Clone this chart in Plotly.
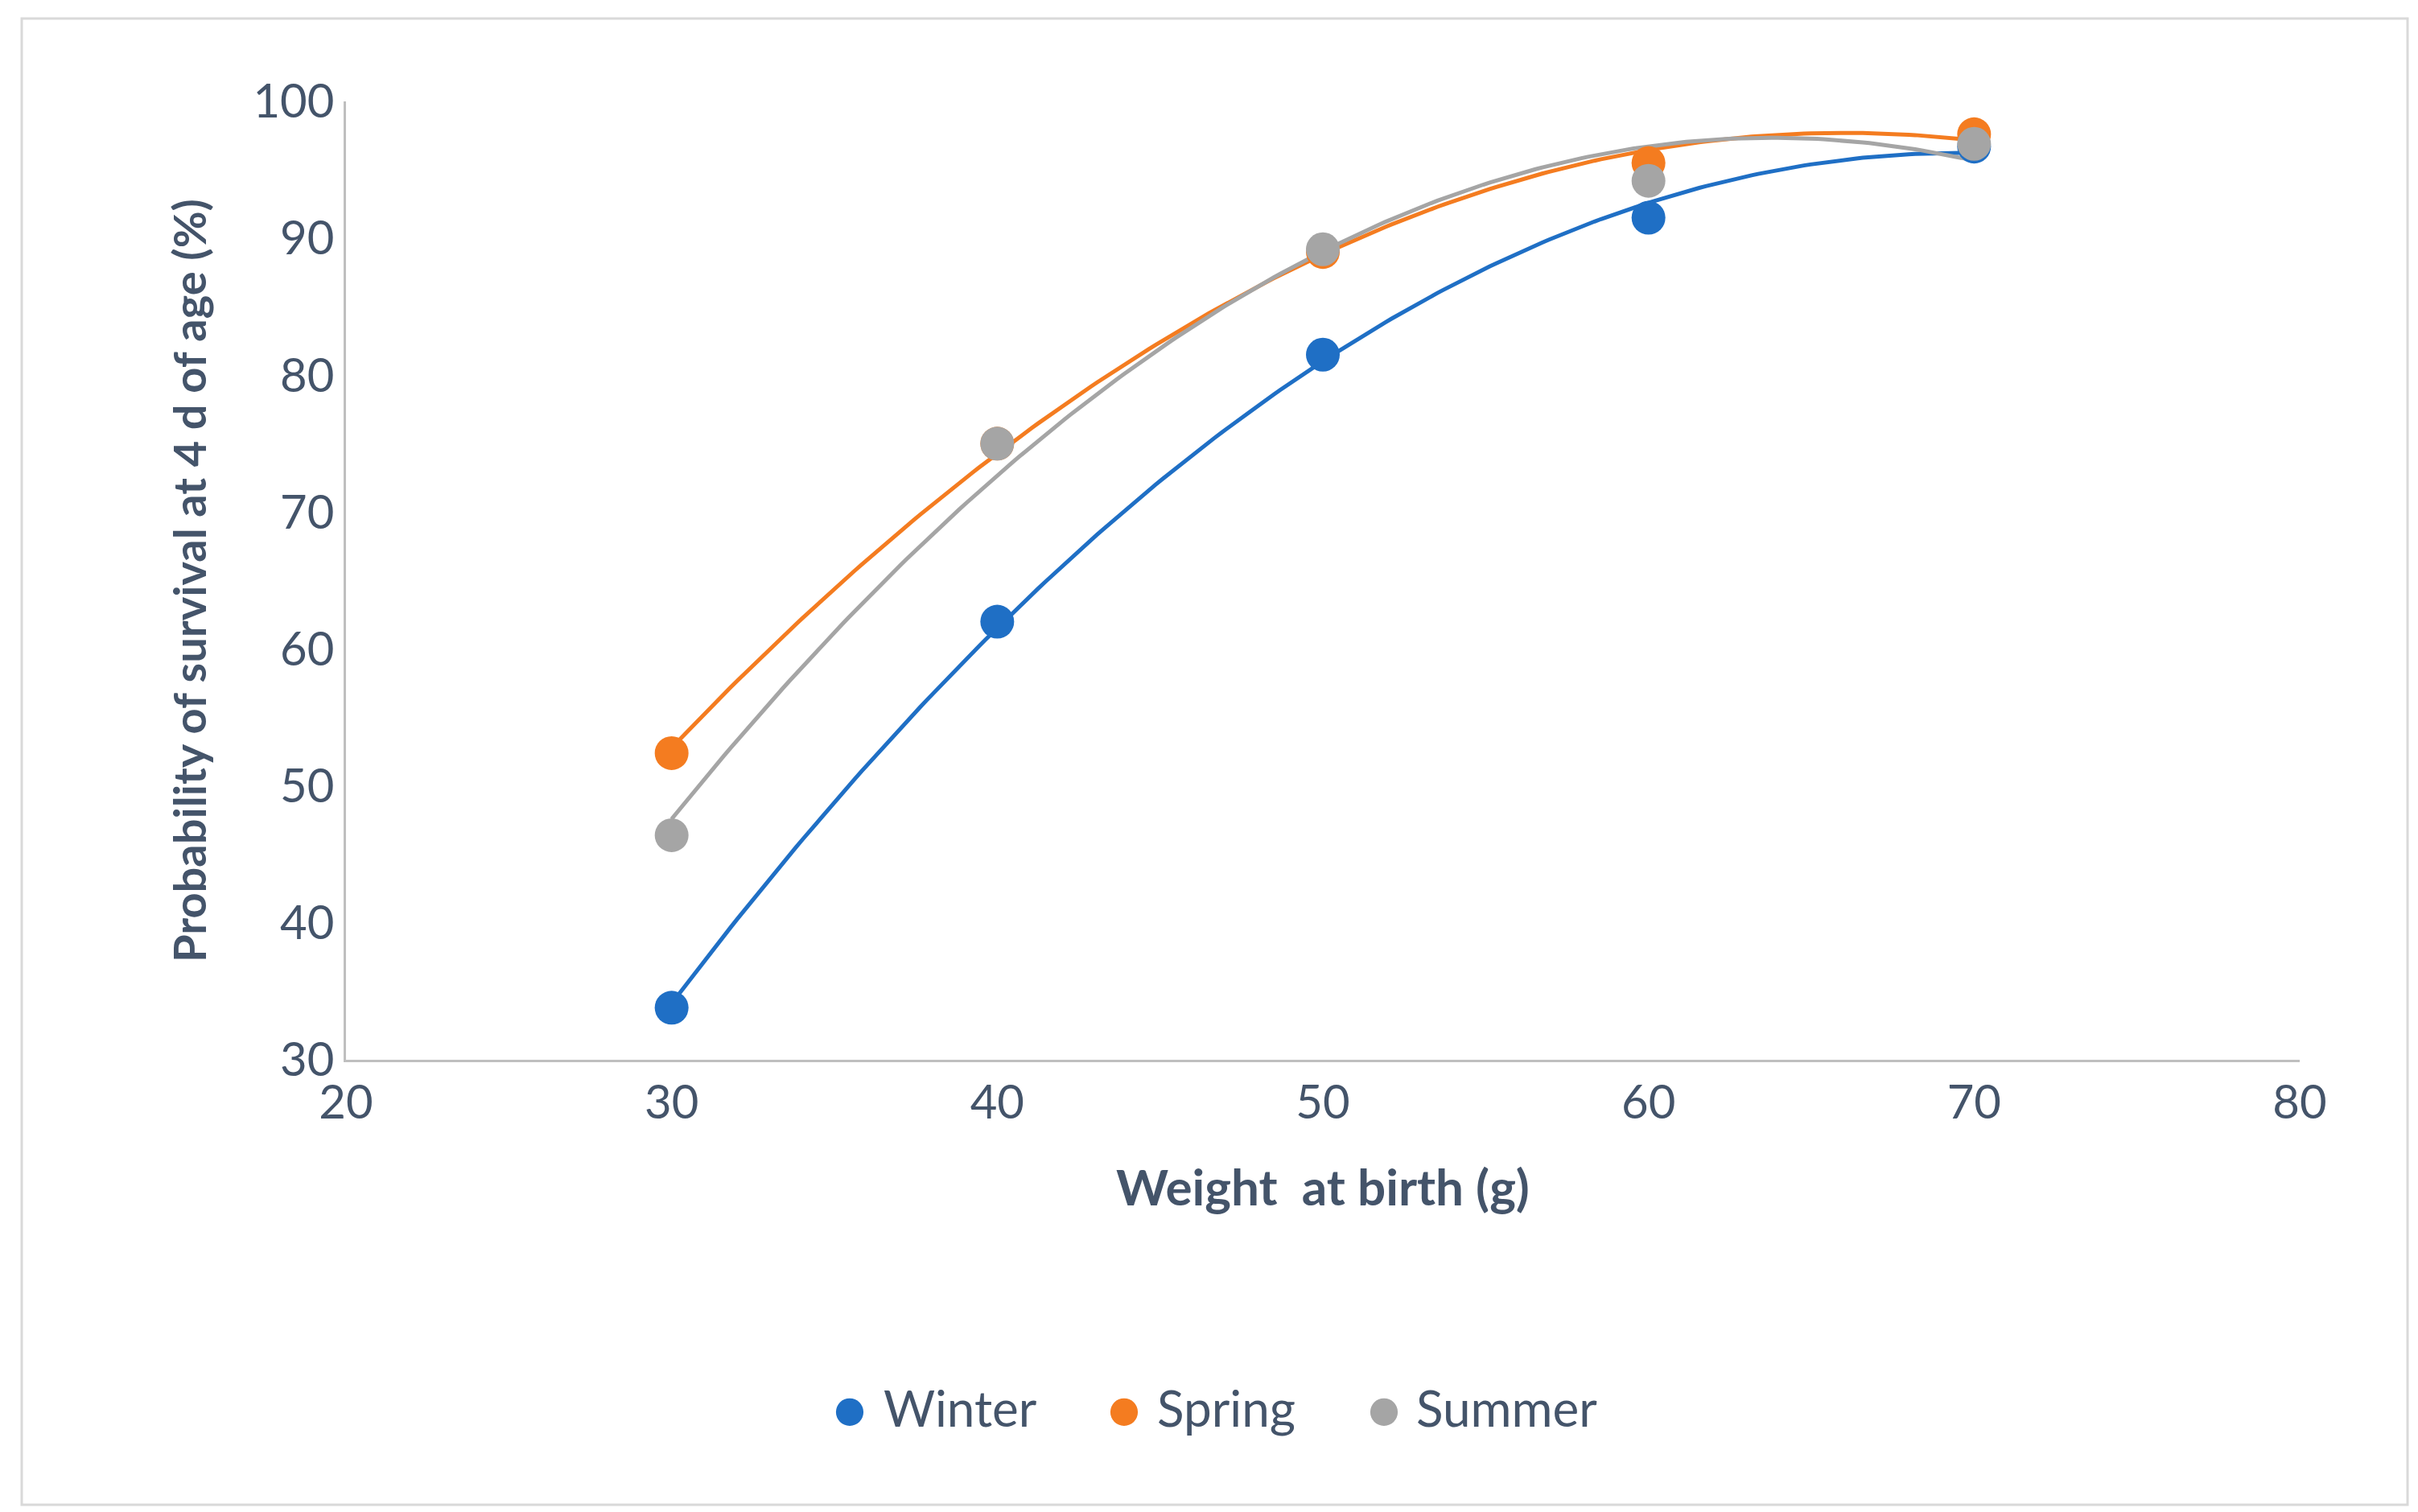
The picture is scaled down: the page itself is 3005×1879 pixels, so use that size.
import numpy as np
import plotly.graph_objects as go

weights = [30, 40, 50, 60, 70]
winter = [33.8, 62.0, 81.5, 91.5, 96.7]
spring = [52.4, 75.0, 89.0, 95.5, 97.6]
summer = [46.4, 75.0, 89.2, 94.2, 96.9]
series = [("Winter", winter, "#1F6FC5"), ("Spring", spring, "#F47C20"), ("Summer", summer, "#A5A5A5")]

fig = go.Figure()
xs = np.linspace(30, 70, 200)
for name, ys, col in series:
    c = np.polyfit(weights, ys, 2)
    fig.add_trace(go.Scatter(x=xs, y=np.polyval(c, xs), mode="lines",
                             line=dict(color=col, width=5), showlegend=False, hoverinfo="skip"))
for name, ys, col in series:
    fig.add_trace(go.Scatter(x=weights, y=ys, mode="markers", name=name, showlegend=False,
                             marker=dict(color=col, size=42)))

L, R, T, B = 422, 155, 118, 570
W, H = 3005, 1879
pw, ph = W - L - R, H - T - B
def px(x): return (x - L) / pw
def py(y): return (H - B - y) / ph

fc = "#44546A"
anns = []
for (name, ys, col), mx, tx in zip(series, [1048, 1389, 1712], [1088, 1428, 1750]):
    anns.append(dict(xref="paper", yref="paper", x=px(mx), y=py(1741), text="●", showarrow=False,
                     font=dict(size=70, color=col), xanchor="center", yanchor="middle"))
    anns.append(dict(xref="paper", yref="paper", x=px(tx), y=py(1741), text=name, showarrow=False,
                     font=dict(size=62, color=fc), xanchor="left", yanchor="middle"))

fig.update_layout(
    width=W, height=H, paper_bgcolor="white", plot_bgcolor="white",
    margin=dict(l=L, r=R, t=T, b=B),
    font=dict(family="Lato", color=fc, size=58),
    showlegend=False,
    xaxis=dict(range=[20, 80], dtick=10, showgrid=False, zeroline=False,
               showline=True, linecolor="#BFBFBF", linewidth=3, ticks="",
               title=dict(text="<b>Weight  at birth (g)</b>", font=dict(size=62), standoff=55)),
    yaxis=dict(range=[30, 100], dtick=10, showgrid=False, zeroline=False,
               showline=True, linecolor="#BFBFBF", linewidth=3, ticks="",
               title=dict(text="<b>Probability of survival at 4 d of age (%)</b>", font=dict(size=56), standoff=40)),
    annotations=anns,
    shapes=[dict(type="rect", xref="paper", yref="paper", x0=px(19), x1=px(2984), y0=py(1862), y1=py(15),
                 line=dict(color="#D9D9D9", width=3))],
)
fig.write_html("out.html")
